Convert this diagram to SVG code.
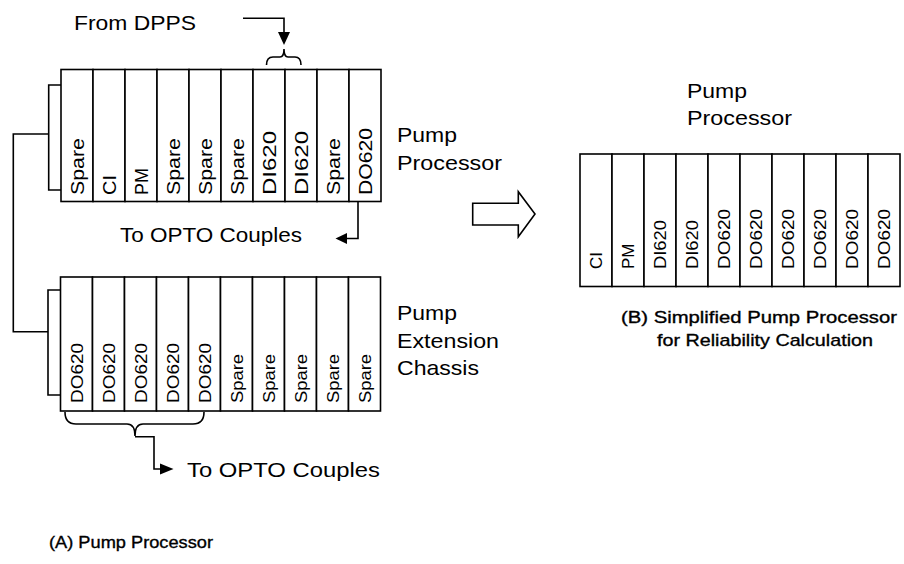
<svg xmlns="http://www.w3.org/2000/svg" width="904" height="564" viewBox="0 0 904 564">
<style>
  text { font-family: "Liberation Sans", Arial, sans-serif; fill: #000; }
  .lbl { font-size: 21px; }
  .col { font-size: 17px; }
  .colt { font-size: 18px; }
  .cap { font-size: 17px; stroke: #000; stroke-width: 0.35; }
  .box { fill: #fff; stroke: #000; stroke-width: 1.6; }
  .ln { fill: none; stroke: #000; stroke-width: 1.6; }
  .ah { fill: #000; stroke: none; }
</style>
<rect width="904" height="564" fill="#fff"/>

<g id="top-chassis">
  <path class="ln" d="M61,85 H48.7 V190 H61"/>
  <rect class="box" x="61" y="69.5" width="32" height="132"/>
  <rect class="box" x="93" y="69.5" width="32" height="132"/>
  <rect class="box" x="125" y="69.5" width="32" height="132"/>
  <rect class="box" x="157" y="69.5" width="32" height="132"/>
  <rect class="box" x="189" y="69.5" width="32" height="132"/>
  <rect class="box" x="221" y="69.5" width="32" height="132"/>
  <rect class="box" x="253" y="69.5" width="32" height="132"/>
  <rect class="box" x="285" y="69.5" width="32" height="132"/>
  <rect class="box" x="317" y="69.5" width="32" height="132"/>
  <rect class="box" x="349" y="69.5" width="32" height="132"/>
  <text class="colt" transform="translate(83.5,195) rotate(-90)" textLength="57" lengthAdjust="spacingAndGlyphs">Spare</text>
  <text class="colt" transform="translate(115.5,195) rotate(-90)" textLength="20" lengthAdjust="spacingAndGlyphs">CI</text>
  <text class="colt" transform="translate(147.5,195) rotate(-90)" textLength="27" lengthAdjust="spacingAndGlyphs">PM</text>
  <text class="colt" transform="translate(179.5,195) rotate(-90)" textLength="57" lengthAdjust="spacingAndGlyphs">Spare</text>
  <text class="colt" transform="translate(211.5,195) rotate(-90)" textLength="57" lengthAdjust="spacingAndGlyphs">Spare</text>
  <text class="colt" transform="translate(243.5,195) rotate(-90)" textLength="57" lengthAdjust="spacingAndGlyphs">Spare</text>
  <text class="colt" transform="translate(275.5,195) rotate(-90)" textLength="64" lengthAdjust="spacingAndGlyphs">DI620</text>
  <text class="colt" transform="translate(307.5,195) rotate(-90)" textLength="64" lengthAdjust="spacingAndGlyphs">DI620</text>
  <text class="colt" transform="translate(339.5,195) rotate(-90)" textLength="57" lengthAdjust="spacingAndGlyphs">Spare</text>
  <text class="colt" transform="translate(371.5,195) rotate(-90)" textLength="67" lengthAdjust="spacingAndGlyphs">DO620</text>
</g>

<g id="top-chassis-label">
  <text class="lbl" x="397" y="142" textLength="60" lengthAdjust="spacingAndGlyphs">Pump</text>
  <text class="lbl" x="397" y="170" textLength="105" lengthAdjust="spacingAndGlyphs">Processor</text>
</g>

<g id="ext-chassis">
  <path class="ln" d="M60.5,290 H48 V395 H60.5"/>
  <rect class="box" x="60.5" y="277" width="32" height="134"/>
  <rect class="box" x="92.5" y="277" width="32" height="134"/>
  <rect class="box" x="124.5" y="277" width="32" height="134"/>
  <rect class="box" x="156.5" y="277" width="32" height="134"/>
  <rect class="box" x="188.5" y="277" width="32" height="134"/>
  <rect class="box" x="220.5" y="277" width="32" height="134"/>
  <rect class="box" x="252.5" y="277" width="32" height="134"/>
  <rect class="box" x="284.5" y="277" width="32" height="134"/>
  <rect class="box" x="316.5" y="277" width="32" height="134"/>
  <rect class="box" x="348.5" y="277" width="32" height="134"/>
  <text class="col" transform="translate(82.5,403) rotate(-90)" textLength="60" lengthAdjust="spacingAndGlyphs">DO620</text>
  <text class="col" transform="translate(114.5,403) rotate(-90)" textLength="60" lengthAdjust="spacingAndGlyphs">DO620</text>
  <text class="col" transform="translate(146.5,403) rotate(-90)" textLength="60" lengthAdjust="spacingAndGlyphs">DO620</text>
  <text class="col" transform="translate(178.5,403) rotate(-90)" textLength="60" lengthAdjust="spacingAndGlyphs">DO620</text>
  <text class="col" transform="translate(210.5,403) rotate(-90)" textLength="60" lengthAdjust="spacingAndGlyphs">DO620</text>
  <text class="col" transform="translate(242.5,403) rotate(-90)" textLength="49" lengthAdjust="spacingAndGlyphs">Spare</text>
  <text class="col" transform="translate(274.5,403) rotate(-90)" textLength="49" lengthAdjust="spacingAndGlyphs">Spare</text>
  <text class="col" transform="translate(306.5,403) rotate(-90)" textLength="49" lengthAdjust="spacingAndGlyphs">Spare</text>
  <text class="col" transform="translate(338.5,403) rotate(-90)" textLength="49" lengthAdjust="spacingAndGlyphs">Spare</text>
  <text class="col" transform="translate(370.5,403) rotate(-90)" textLength="49" lengthAdjust="spacingAndGlyphs">Spare</text>
</g>

<g id="ext-chassis-label">
  <text class="lbl" x="397" y="320" textLength="60" lengthAdjust="spacingAndGlyphs">Pump</text>
  <text class="lbl" x="397" y="348" textLength="102" lengthAdjust="spacingAndGlyphs">Extension</text>
  <text class="lbl" x="397" y="375" textLength="82" lengthAdjust="spacingAndGlyphs">Chassis</text>
</g>

<g id="simplified-chassis">
  <rect class="box" x="580" y="154" width="32" height="132.5"/>
  <rect class="box" x="612" y="154" width="32" height="132.5"/>
  <rect class="box" x="644" y="154" width="32" height="132.5"/>
  <rect class="box" x="676" y="154" width="32" height="132.5"/>
  <rect class="box" x="708" y="154" width="32" height="132.5"/>
  <rect class="box" x="740" y="154" width="32" height="132.5"/>
  <rect class="box" x="772" y="154" width="32" height="132.5"/>
  <rect class="box" x="804" y="154" width="32" height="132.5"/>
  <rect class="box" x="836" y="154" width="32" height="132.5"/>
  <rect class="box" x="868" y="154" width="32" height="132.5"/>
  <text class="col" transform="translate(602,269) rotate(-90)">CI</text>
  <text class="col" transform="translate(634,269) rotate(-90)">PM</text>
  <text class="col" transform="translate(666,269) rotate(-90)" textLength="49" lengthAdjust="spacingAndGlyphs">DI620</text>
  <text class="col" transform="translate(698,269) rotate(-90)" textLength="49" lengthAdjust="spacingAndGlyphs">DI620</text>
  <text class="col" transform="translate(730,269) rotate(-90)" textLength="60" lengthAdjust="spacingAndGlyphs">DO620</text>
  <text class="col" transform="translate(762,269) rotate(-90)" textLength="60" lengthAdjust="spacingAndGlyphs">DO620</text>
  <text class="col" transform="translate(794,269) rotate(-90)" textLength="60" lengthAdjust="spacingAndGlyphs">DO620</text>
  <text class="col" transform="translate(826,269) rotate(-90)" textLength="60" lengthAdjust="spacingAndGlyphs">DO620</text>
  <text class="col" transform="translate(858,269) rotate(-90)" textLength="60" lengthAdjust="spacingAndGlyphs">DO620</text>
  <text class="col" transform="translate(890,269) rotate(-90)" textLength="60" lengthAdjust="spacingAndGlyphs">DO620</text>
</g>

<g id="simplified-label">
  <text class="lbl" x="687" y="98" textLength="60" lengthAdjust="spacingAndGlyphs">Pump</text>
  <text class="lbl" x="687" y="125" textLength="105" lengthAdjust="spacingAndGlyphs">Processor</text>
</g>

<g id="caption-b">
  <text class="cap" x="621" y="323" textLength="276" lengthAdjust="spacingAndGlyphs">(B) Simplified Pump Processor</text>
  <text class="cap" x="657" y="346" textLength="216" lengthAdjust="spacingAndGlyphs">for Reliability Calculation</text>
</g>

<g id="caption-a">
  <text class="cap" x="49" y="548" textLength="164" lengthAdjust="spacingAndGlyphs">(A) Pump Processor</text>
</g>

<g id="from-dpps">
  <text class="lbl" x="74" y="30" textLength="122" lengthAdjust="spacingAndGlyphs">From DPPS</text>
</g>

<g id="to-opto-1">
  <text class="lbl" x="120" y="242" textLength="182" lengthAdjust="spacingAndGlyphs">To OPTO Couples</text>
</g>

<g id="to-opto-2">
  <text class="lbl" x="187" y="477" textLength="193" lengthAdjust="spacingAndGlyphs">To OPTO Couples</text>
</g>

<g id="transform-arrow">
  <polygon class="box" points="472.7,203.3 518.3,203.3 518.3,191.7 535,214 518.3,236.7 518.3,225 472.7,225"/>
</g>

<g id="connectors">
  <path class="ln" d="M48.7,134 H13.3 V331.7 H48"/>
  <path class="ln" d="M243,18.3 H284 V34"/>
  <polygon class="ah" points="278,32 290,32 284,45"/>
  <path class="ln" d="M266.5,65 Q266.5,57 273,57 H280 Q284,57 284,49 Q284,57 288,57 H295 Q301,57 301,65"/>
  <path class="ln" d="M358,201.5 V238.5 H345"/>
  <polygon class="ah" points="335.5,238.5 347,233 347,244"/>
  <path class="ln" d="M65,412 Q65,424 76,424 H127 Q135,424 135,436 Q135,424 143,424 H193 Q204,424 204,412"/>
  <path class="ln" d="M135,436.7 H154 V469 H161"/>
  <polygon class="ah" points="173.5,469 160,463.5 160,474.5"/>
</g>
</svg>
